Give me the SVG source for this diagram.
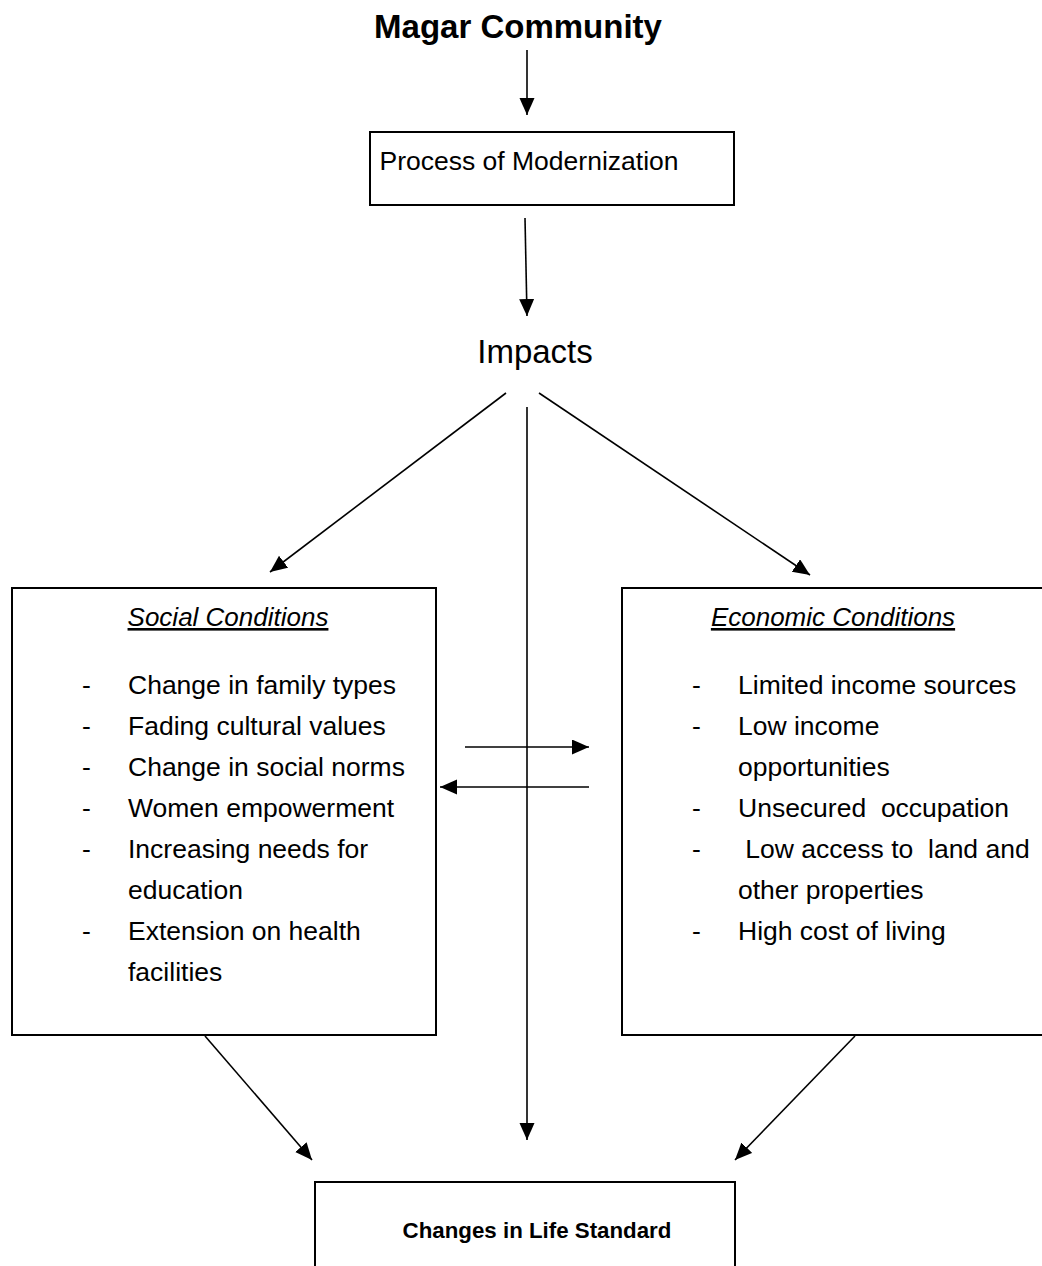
<svg xmlns="http://www.w3.org/2000/svg" width="1042" height="1266" viewBox="0 0 1042 1266">
<style>
text { font-family: "Liberation Sans", Arial, sans-serif; fill: #000; white-space: pre; }
.title { font-size: 33px; font-weight: bold; }
.body { font-size: 26.5px; }
.head { font-size: 26px; font-style: italic; text-decoration: underline; }
.impacts { font-size: 33px; }
.bold { font-size: 22.3px; font-weight: bold; }
.box { fill: #fff; stroke: #000; stroke-width: 2; }
.conn line { stroke: #000; stroke-width: 1.6; marker-end: url(#arr); }
</style>
<defs>
<marker id="arr" markerUnits="userSpaceOnUse" markerWidth="18" markerHeight="16" refX="17" refY="7.5" orient="auto">
<path d="M0,0 L17,7.5 L0,15 z" fill="#000"/>
</marker>
</defs>
<g id="magar"><text class="title" x="518" y="38" text-anchor="middle">Magar Community</text></g>
<g id="process">
<rect class="box" x="370" y="132" width="364" height="73"/>
<text class="body" x="529" y="170" text-anchor="middle">Process of Modernization</text>
</g>
<g id="impacts"><text class="impacts" x="535" y="363" text-anchor="middle">Impacts</text></g>
<g id="social">
<rect class="box" x="12" y="588" width="424" height="447"/>
<text class="head" x="228" y="626" text-anchor="middle">Social Conditions</text>
<text class="body" x="82" y="694">-</text><text class="body" x="128" y="694">Change in family types</text>
<text class="body" x="82" y="735">-</text><text class="body" x="128" y="735">Fading cultural values</text>
<text class="body" x="82" y="776">-</text><text class="body" x="128" y="776">Change in social norms</text>
<text class="body" x="82" y="817">-</text><text class="body" x="128" y="817">Women empowerment</text>
<text class="body" x="82" y="858">-</text><text class="body" x="128" y="858">Increasing needs for</text>
<text class="body" x="128" y="899">education</text>
<text class="body" x="82" y="940">-</text><text class="body" x="128" y="940">Extension on health</text>
<text class="body" x="128" y="981">facilities</text>
</g>
<g id="economic">
<rect class="box" x="622" y="588" width="430" height="447"/>
<text class="head" x="833" y="626" text-anchor="middle">Economic Conditions</text>
<text class="body" x="692" y="694">-</text><text class="body" x="738" y="694">Limited income sources</text>
<text class="body" x="692" y="735">-</text><text class="body" x="738" y="735">Low income</text>
<text class="body" x="738" y="776">opportunities</text>
<text class="body" x="692" y="817">-</text><text class="body" x="738" y="817">Unsecured  occupation</text>
<text class="body" x="692" y="858">-</text><text class="body" x="738" y="858"> Low access to  land and</text>
<text class="body" x="738" y="899">other properties</text>
<text class="body" x="692" y="940">-</text><text class="body" x="738" y="940">High cost of living</text>
</g>
<g id="life">
<rect class="box" x="315" y="1182" width="420" height="110"/>
<text class="bold" x="537" y="1238" text-anchor="middle">Changes in Life Standard</text>
</g>
<g id="connectors" class="conn">
<line x1="527" y1="50" x2="527" y2="115"/>
<line x1="525" y1="218" x2="527" y2="316"/>
<line x1="506" y1="393" x2="270" y2="572"/>
<line x1="539" y1="393" x2="810" y2="575"/>
<line x1="527" y1="407" x2="527" y2="1140"/>
<line x1="465" y1="747" x2="589" y2="747"/>
<line x1="589" y1="787" x2="440" y2="787"/>
<line x1="205" y1="1036" x2="312" y2="1160"/>
<line x1="855" y1="1036" x2="735" y2="1160"/>
</g>
</svg>
